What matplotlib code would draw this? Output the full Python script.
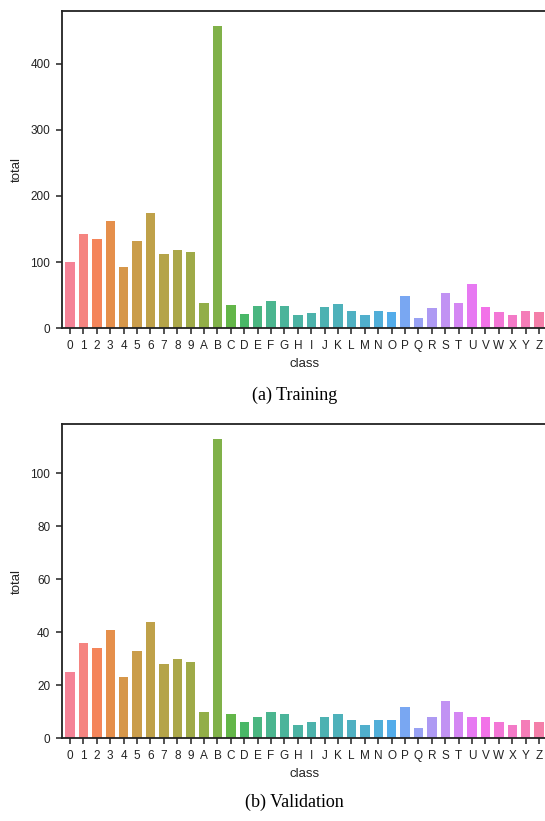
import math
import colorsys

import numpy as np
import matplotlib
matplotlib.use('Agg')
import matplotlib.pyplot as plt


classes = list('0123456789ABCDEFGHIJKLMNOPQRSTUVWXYZ')

train_totals = [100, 142, 135, 162, 92, 132, 175, 113, 118, 116,
                38, 457, 35, 21, 33, 41, 33, 20, 23, 32,
                37, 26, 20, 26, 25, 49, 15, 30, 54, 39,
                67, 32, 25, 20, 26, 25]

val_totals = [25, 36, 34, 41, 23, 33, 44, 28, 30, 29,
              10, 113, 9, 6, 8, 10, 9, 5, 6, 8,
              9, 7, 5, 7, 7, 12, 4, 8, 14, 10,
              8, 8, 6, 5, 7, 6]

captions = ['(a) Training', '(b) Validation']


# husl colours, same maths as the seaborn palette
M = [[3.2406, -1.5372, -0.4986],
     [-0.9689, 1.8758, 0.0415],
     [0.0557, -0.2040, 1.0570]]
REF_U, REF_V = 0.19784, 0.46834
LAB_E, LAB_K = 0.008856, 903.3


def max_chroma(L, H):
    hrad = math.radians(H)
    sinH, cosH = math.sin(hrad), math.cos(hrad)
    sub1 = (L + 16) ** 3 / 1560896.0
    sub2 = sub1 if sub1 > LAB_E else L / LAB_K
    result = float('inf')
    for m1, m2, m3 in M:
        top = (0.99915 * m1 + 1.05122 * m2 + 1.14460 * m3) * sub2
        rbottom = 0.86330 * m3 - 0.17266 * m2
        lbottom = 0.12949 * m3 - 0.38848 * m1
        bottom = (rbottom * sinH + lbottom * cosH) * sub2
        for t in (0.0, 1.0):
            C = L * (top - 1.05122 * t) / (bottom + 0.17266 * sinH * t)
            if 0.0 < C < result:
                result = C
    return result


def from_linear(c):
    if c <= 0.0031308:
        return 12.92 * c
    return 1.055 * c ** (1 / 2.4) - 0.055


def husl_to_rgb(H, S, L):
    C = max_chroma(L, H) / 100.0 * S
    U = C * math.cos(math.radians(H))
    V = C * math.sin(math.radians(H))
    t = (L + 16) / 116.0
    Y = t ** 3 if t ** 3 > LAB_E else (116 * t - 16) / LAB_K
    varU = U / (13 * L) + REF_U
    varV = V / (13 * L) + REF_V
    X = -(9 * Y * varU) / ((varU - 4) * varV - varU * varV)
    Z = (9 * Y - 15 * varV * Y - varV * X) / (3 * varV)
    rgb = [from_linear(m1 * X + m2 * Y + m3 * Z) for m1, m2, m3 in M]
    return [min(max(c, 0.0), 1.0) for c in rgb]


def husl_palette(n, h=.01, s=.9, l=.65, sat=0.95, fade=0.1):
    hues = (np.linspace(0, 1, n + 1)[:-1] + h) % 1 * 359
    cols = []
    for hue in hues:
        r, g, b = husl_to_rgb(hue, s * 99, l * 99)
        hh, ll, ss = colorsys.rgb_to_hls(r, g, b)
        r, g, b = colorsys.hls_to_rgb(hh, ll, ss * sat)
        # scan looks a bit washed out
        cols.append(tuple(c + (1 - c) * fade for c in (r, g, b)))
    return cols


colors = husl_palette(len(classes))

plt.rcParams['font.family'] = ['Liberation Sans', 'DejaVu Sans']

fig = plt.figure(figsize=(5.45, 8.21), dpi=100)
ax_top = fig.add_axes([0.1138, 0.6001, 0.890, 0.3868])
ax_bot = fig.add_axes([0.1138, 0.1007, 0.890, 0.3828])

x = np.arange(len(classes))
for ax, vals in zip([ax_top, ax_bot], [train_totals, val_totals]):
    ax.bar(x, vals, width=0.7, color=colors)
    ax.set_xlim(-0.6, len(classes) - 0.4)
    ax.set_xticks(x)
    ax.set_xticklabels(classes)
    ax.tick_params(axis='both', direction='out', length=4.5, width=1.1,
                   color='#222222', labelsize=8.5, labelcolor='#222222', pad=4)
    for sp in ax.spines.values():
        sp.set_linewidth(1.3)
        sp.set_color('#222222')
    ax.set_xlabel('class', fontsize=9.5, color='#222222', labelpad=4)
    ax.set_ylabel('total', fontsize=9.5, color='#222222')
    ax.yaxis.set_label_coords(-0.080, 0.5)

ax_top.set_yticks([0, 100, 200, 300, 400])
ax_bot.set_yticks([0, 20, 40, 60, 80, 100])

fig.text(0.54, 0.519, captions[0], ha='center', va='center',
         fontsize=13, family='Liberation Serif')
fig.text(0.54, 0.023, captions[1], ha='center', va='center',
         fontsize=13, family='Liberation Serif')

fig.savefig('out.png', dpi=100)
